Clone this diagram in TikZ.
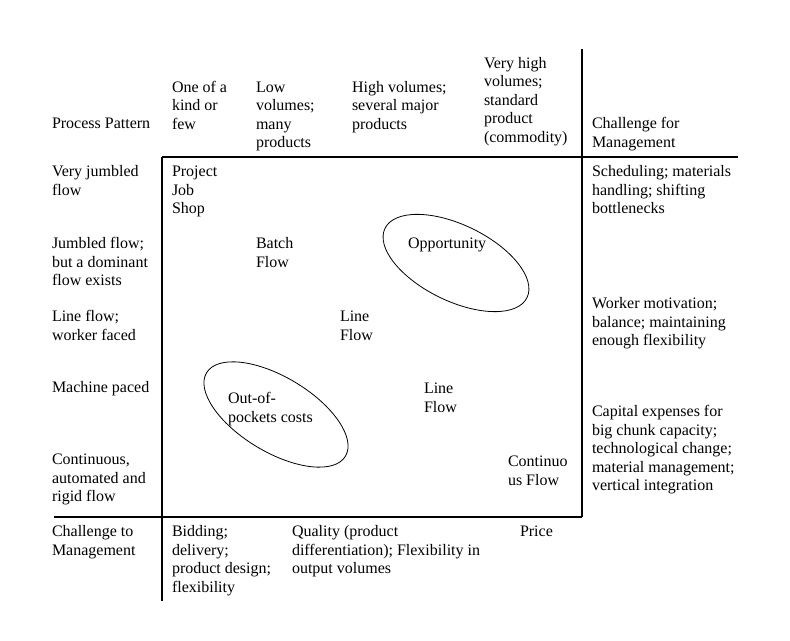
\documentclass[tikz,border=0pt]{standalone}
\usepackage{fontspec}
\setmainfont{Liberation Serif}
\newcommand\mlines[1]{\begin{tabular}[t]{@{}l@{}}#1\end{tabular}}
\begin{document}
\begin{tikzpicture}[x=0.75pt,y=-0.75pt,
  txt/.style={anchor=base west,inner sep=0pt,outer sep=0pt,font=\fontsize{12}{13.8}\selectfont},
  rule/.style={line width=0.8pt,black},
  oval/.style={line width=0.6pt,black}]
\useasboundingbox (0,0) rectangle (790,641);
% grid lines
\coordinate (tl) at (162,157);
\coordinate (tr) at (738,157);
\coordinate (lb) at (162,601);
\coordinate (rt) at (582,49);
\coordinate (rb) at (582,517);
\coordinate (bl) at (54,517);
\draw[rule] (tl) -- (tr);
\draw[rule] (tl) -- (lb);
\draw[rule] (rt) -- (rb);
\draw[rule] (bl) -- (rb);
% ellipses
\draw[oval,rotate around={-26:(456,263)}] (456,263) ellipse [x radius=79,y radius=38];
\draw[oval,rotate around={-31:(276,414.5)}] (276,414.5) ellipse [x radius=81,y radius=37.5];
% header row
\node[txt] (pp) at (52,129) {Process Pattern};
\node[txt] (h1) at (172,92.5) {\mlines{One of a\\kind or\\few}};
\node[txt] (h2) at (256,92.5) {\mlines{Low\\volumes;\\many\\products}};
\node[txt] (h3) at (352,92.5) {\mlines{High volumes;\\several major\\products}};
\node[txt] (h4) at (484,68.5) {\mlines{Very high\\volumes;\\standard\\product\\(commodity)}};
\node[txt] (cfm) at (592,129) {\mlines{Challenge for\\Management}};
% left column
\node[txt] (r1) at (52,177) {\mlines{Very jumbled\\flow}};
\node[txt] (r2) at (52,249) {\mlines{Jumbled flow;\\but a dominant\\flow exists}};
\node[txt] (r3) at (52,322) {\mlines{Line flow;\\worker faced}};
\node[txt] (r4) at (52,393) {Machine paced};
\node[txt] (r5) at (52,465) {\mlines{Continuous,\\automated and\\rigid flow}};
\node[txt] (ctm) at (52,537) {\mlines{Challenge to\\Management}};
% inside the box
\node[txt] (pjs) at (172,177) {\mlines{Project\\Job\\Shop}};
\node[txt] (bf) at (256,249) {\mlines{Batch\\Flow}};
\node[txt] (opp) at (408,249) {Opportunity};
\node[txt] (lf1) at (340,322) {\mlines{Line\\Flow}};
\node[txt] (oop) at (228,404) {\mlines{Out-of-\\pockets costs}};
\node[txt] (lf2) at (424,394) {\mlines{Line\\Flow}};
\node[txt] (cf) at (508,467) {\mlines{Continuo\\us Flow}};
% right column
\node[txt] (c1) at (592,177) {\mlines{Scheduling; materials\\handling; shifting\\bottlenecks}};
\node[txt] (c2) at (592,309) {\mlines{Worker motivation;\\balance; maintaining\\enough flexibility}};
\node[txt] (c3) at (592,417) {\mlines{Capital expenses for\\big chunk capacity;\\technological change;\\material management;\\vertical integration}};
% bottom row
\node[txt] (b1) at (172,537) {\mlines{Bidding;\\delivery;\\product design;\\flexibility}};
\node[txt] (b2) at (292,537) {\mlines{Quality (product\\differentiation); Flexibility in\\output volumes}};
\node[txt] (b3) at (520,537) {Price};
\end{tikzpicture}
\end{document}
